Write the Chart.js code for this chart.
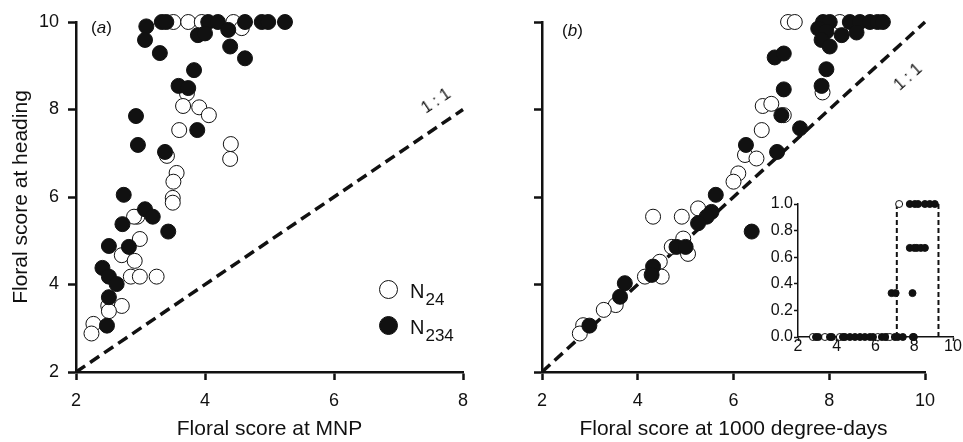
<!DOCTYPE html>
<html>
<head>
<meta charset="utf-8">
<script src="https://cdn.jsdelivr.net/npm/chart.js@4.4.0/dist/chart.umd.min.js"></script>
<style>
  html, body { margin: 0; padding: 0; background: #fff; }
  #wrap { position: relative; width: 963px; height: 442px; overflow: hidden;
          font-family: "Liberation Sans", Arial, Helvetica, sans-serif; color: #111; }
  canvas { position: absolute; }
  .txt { position: absolute; white-space: nowrap; z-index: 5; line-height: 20px; }
  .mk { position: absolute; width: 17px; height: 17px; border: 1px solid #111; border-radius: 50%; z-index: 5; }
  .mk.open { background: #fff; }
  .mk.fill { background: #111; }
  .lg { font-size: 20px; }
  .lg sub { font-size: 17px; vertical-align: -7px; line-height: 0; margin-left: 1px; }
  .one { font-size: 16px; transform: translate(-50%, -50%); }
</style>
</head>
<body>
<div id="wrap">
  <canvas id="chartA" width="480" height="442" style="left:0;top:0"></canvas>
  <canvas id="chartB" width="483" height="442" style="left:480px;top:0"></canvas>
  <canvas id="chartIn" width="203" height="175" style="left:760px;top:190px"></canvas>

  <div class="txt" style="left:91px;top:18px;font-size:17px">(<i>a</i>)</div>
  <div class="txt" style="left:562px;top:21px;font-size:17px">(<i>b</i>)</div>
  <div class="txt one" style="left:436px;top:101px;transform:translate(-50%,-50%) rotate(-34deg)">1 : 1</div>
  <div class="txt one" style="left:908px;top:77px;transform:translate(-50%,-50%) rotate(-42deg)">1 : 1</div>

  <div class="mk open" style="left:379px;top:280px"></div>
  <div class="txt lg" style="left:410px;top:281px">N<sub>24</sub></div>
  <div class="mk fill" style="left:379px;top:316px"></div>
  <div class="txt lg" style="left:410px;top:317px">N<sub>234</sub></div>
</div>
<script>
// panel (a): floral score at MNP (x) vs floral score at heading (y)
const aOpenX = [3.51, 3.74, 3.95, 4.44, 4.57, 3.72, 3.66, 3.91, 4.06, 3.60, 4.40, 4.39, 3.41, 3.56, 3.51,
                3.50, 3.50, 2.95, 2.90, 2.99, 2.71, 2.91, 2.85, 2.99, 3.25, 2.50, 2.71, 2.51, 2.27, 2.24];
const aOpenY = [10, 10, 10, 10, 9.86, 8.37, 8.08, 8.05, 7.87, 7.53, 7.21, 6.87, 6.94, 6.55, 6.35,
                5.98, 5.87, 5.55, 5.55, 5.04, 4.67, 4.54, 4.18, 4.18, 4.18, 3.51, 3.51, 3.39, 3.10, 2.88];
const aFillX = [3.33, 3.40, 4.05, 4.20, 4.62, 4.88, 4.98, 5.24, 3.09, 3.07, 3.30, 3.89, 4.00, 4.36, 4.39,
                4.62, 3.83, 3.59, 3.74, 3.88, 2.93, 2.96, 3.38, 2.74, 3.07, 3.19, 2.72, 3.43, 2.51, 2.82,
                2.41, 2.51, 2.63, 2.51, 2.48];
const aFillY = [10, 10, 10, 10, 10, 10, 10, 10, 9.90, 9.59, 9.29, 9.70, 9.74, 9.82, 9.44,
                9.17, 8.90, 8.54, 8.49, 7.53, 7.85, 7.19, 7.03, 6.05, 5.72, 5.55, 5.38, 5.21, 4.88, 4.86,
                4.38, 4.18, 4.01, 3.71, 3.06];

// panel (b): floral score at 1000 degree-days (x) vs at heading (y)
const bOpenX = [7.14, 7.28, 8.22, 7.86, 6.61, 6.79, 7.05, 6.59, 6.24, 6.48, 6.10, 6.00, 5.26, 4.32, 4.92,
                4.71, 4.95, 5.05, 4.46, 4.15, 4.50, 3.54, 3.29, 2.86, 2.79];
const bOpenY = [10, 10, 10, 8.39, 8.08, 8.13, 7.87, 7.53, 6.96, 6.88, 6.54, 6.35, 5.74, 5.55, 5.55,
                4.86, 5.05, 4.70, 4.52, 4.18, 4.18, 3.53, 3.42, 3.07, 2.88];
const bFillX = [7.87, 8.01, 8.43, 8.64, 8.85, 9.01, 9.12, 7.77, 7.94, 8.26, 8.57, 7.84, 8.01, 6.86, 7.05,
                7.94, 7.05, 7.84, 7.00, 7.39, 6.26, 6.91, 5.63, 5.54, 5.44, 5.26, 6.38, 4.81, 5.00, 4.32,
                4.29, 3.73, 3.63, 2.99];
const bFillY = [10, 10, 10, 10, 10, 10, 10, 9.85, 9.78, 9.70, 9.76, 9.59, 9.44, 9.19, 9.28,
                8.92, 8.46, 8.54, 7.87, 7.57, 7.19, 7.03, 6.05, 5.66, 5.55, 5.40, 5.21, 4.86, 4.86, 4.41,
                4.22, 4.03, 3.72, 3.06];

// inset
const inOpenX = [2.77, 3.39, 4.16, 6.12, 6.60, 6.74, 7.22];
const inOpenY = [0, 0, 0, 0, 0, 0, 1];
const inFillX = [2.93, 3.05, 3.65, 3.75, 4.32, 4.42, 4.68, 4.94, 5.20, 5.45, 5.71, 5.87, 6.33, 6.50, 7.00,
                 7.15, 7.41, 7.93, 7.98, 6.83, 7.04, 7.91, 7.77, 8.00, 8.13, 8.34, 8.55,
                 7.77, 8.03, 8.20, 8.55, 8.80, 9.06];
const inFillY = [0, 0, 0, 0, 0, 0, 0, 0, 0, 0, 0, 0, 0, 0, 0,
                 0, 0, 0, 0, 0.33, 0.33, 0.33, 0.67, 0.67, 0.67, 0.67, 0.67,
                 1, 1, 1, 1, 1, 1];
const inCutLeft = [7.1, 7.1];
const inCutRight = [9.25, 9.25];
const inCutY = [0, 1];

// 1:1 reference lines
const oneToOneA = [2, 8];
const oneToOneB = [2, 10];

// tick values
const ticksA_X = [2, 4, 6, 8];
const ticksB_X = [2, 4, 6, 8, 10];
const ticksY = [2, 4, 6, 8, 10];
const ticksIn_X = [2, 4, 6, 8, 10];
const ticksIn_Y = [0, 0.2, 0.4, 0.6, 0.8, 1.0];

Chart.defaults.font.family = '"Liberation Sans", Arial, Helvetica, sans-serif';
Chart.defaults.color = '#111';

const pts = (xs, ys) => xs.map((x, i) => ({ x: x, y: ys[i] }));

function dots(xs, ys, filled, r) {
    return {
        data: pts(xs, ys),
        pointRadius: r,
        pointHoverRadius: r,
        pointBackgroundColor: filled ? '#111' : '#fff',
        pointBorderColor: '#111',
        pointBorderWidth: 1,
        showLine: false,
        clip: false
    };
}

function dashed(xs, ys, w, dash) {
    return {
        data: pts(xs, ys),
        showLine: true,
        borderColor: '#111',
        borderWidth: w,
        borderDash: dash,
        pointRadius: 0,
        clip: false
    };
}

function axis(min, max, tickVals, o) {
    return {
        type: 'linear',
        min: min,
        max: max,
        afterBuildTicks: s => { s.ticks = tickVals.map(v => ({ value: v })); },
        afterFit: s => { if (s.isHorizontal()) s.height = o.size; else s.width = o.size; },
        border: { display: true, color: '#111', width: o.line },
        grid: { drawOnChartArea: false, drawTicks: true, tickLength: o.tick, tickWidth: o.line, tickColor: '#111' },
        ticks: {
            display: o.labels !== false,
            padding: o.pad,
            font: { size: o.fs, lineHeight: o.lh || 1.2 },
            color: '#111',
            maxRotation: 0,
            autoSkip: false,
            callback: o.fmt || (v => v)
        },
        title: o.title
            ? { display: true, text: o.title, font: { size: 21 }, color: '#111', padding: o.tpad }
            : { display: false }
    };
}

const baseOpts = {
    responsive: false,
    animation: false,
    events: [],
    plugins: { legend: { display: false }, tooltip: { enabled: false } }
};

// (a)
new Chart(document.getElementById('chartA'), {
    type: 'scatter',
    data: {
        datasets: [
            dots(aFillX, aFillY, true, 7.5),
            dots(aOpenX, aOpenY, false, 7.5),
            dashed(oneToOneA, oneToOneA, 3.5, [11, 6])
        ]
    },
    options: Object.assign({}, baseOpts, {
        layout: { padding: { top: 22, right: 17, left: 0, bottom: 0 } },
        scales: {
            x: axis(2, 8, ticksA_X, { size: 70, line: 2.5, tick: 8, pad: 10, fs: 18,
                title: 'Floral score at MNP', tpad: { top: 0, bottom: 0 } }),
            y: axis(2, 10, ticksY, { size: 76, line: 2.5, tick: 8, pad: 9, fs: 18,
                title: 'Floral score at heading', tpad: { top: 9, bottom: 0 } })
        }
    })
});

// (b)
new Chart(document.getElementById('chartB'), {
    type: 'scatter',
    data: {
        datasets: [
            dots(bFillX, bFillY, true, 7.5),
            dots(bOpenX, bOpenY, false, 7.5),
            dashed(oneToOneB, oneToOneB, 3.5, [11, 6])
        ]
    },
    options: Object.assign({}, baseOpts, {
        layout: { padding: { top: 22, right: 38, left: 0, bottom: 0 } },
        scales: {
            x: axis(2, 10, ticksB_X, { size: 70, line: 2.5, tick: 8, pad: 10, fs: 18,
                title: 'Floral score at 1000 degree-days', tpad: { top: 0, bottom: 0 } }),
            y: axis(2, 10, ticksY, { size: 62, line: 2.5, tick: 8, pad: 9, fs: 18, labels: false })
        }
    })
});

// inset
new Chart(document.getElementById('chartIn'), {
    type: 'scatter',
    data: {
        datasets: [
            dots(inFillX, inFillY, true, 3.5),
            dots(inOpenX, inOpenY, false, 3.5),
            dashed(inCutLeft, inCutY, 2, [5, 3]),
            dashed(inCutRight, inCutY, 2, [5, 3])
        ]
    },
    options: Object.assign({}, baseOpts, {
        layout: { padding: { top: 14, right: 10, left: 0, bottom: 0 } },
        scales: {
            x: axis(2, 10, ticksIn_X, { size: 28, line: 1.5, tick: 4, pad: -2, fs: 16, lh: 1 }),
            y: axis(0, 1, ticksIn_Y, { size: 38, line: 1.5, tick: 4, pad: 1, fs: 16,
                fmt: v => v.toFixed(1) })
        }
    })
});
</script>
</body>
</html>
